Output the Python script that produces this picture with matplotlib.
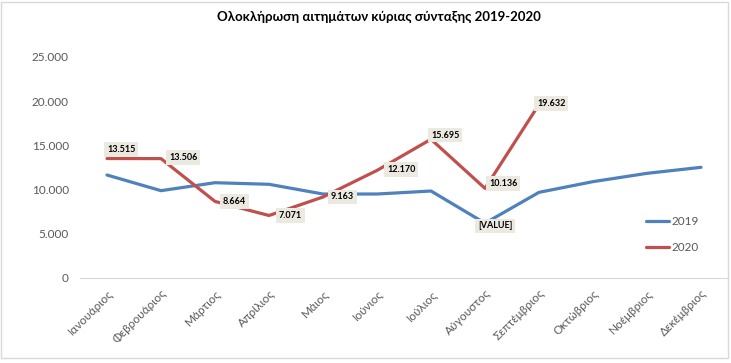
import matplotlib
matplotlib.use('agg')
import matplotlib.pyplot as plt
from matplotlib.patches import Rectangle
from matplotlib.ticker import FuncFormatter

months = ['Ιανουάριος', 'Φεβρουάριος', 'Μάρτιος', 'Απρίλιος', 'Μάιος', 'Ιούνιος',
          'Ιούλιος', 'Αύγουστος', 'Σεπτέμβριος', 'Οκτώβριος', 'Νοέμβριος', 'Δεκέμβριος']
v2019 = [11650, 9880, 10780, 10600, 9500, 9500, 9840, 6200, 9690, 10900, 11840, 12520]
v2020 = [13515, 13506, 8664, 7071, 9163, 12170, 15695, 10136, 19632]
# offsets (px) of the data labels relative to their point
off2020 = [(0, 9), (8, 1), (8, 0), (10, 0), (8, 0), (10, 1), (0, 4), (4, 5), (-2, 1)]

plt.rcParams['font.family'] = ['Lato', 'Noto Sans', 'DejaVu Sans']

fig = plt.figure(figsize=(7.31, 3.63), dpi=100)
ax = fig.add_axes([80 / 731, 85 / 363, 648 / 731, 221 / 363])
fig.patches.append(Rectangle((0.002, 0.015), 0.994, 0.98, transform=fig.transFigure,
                             fill=False, edgecolor='#d9d9d9', lw=1))

x = list(range(len(months)))
ax.plot(x, v2019, color='#4f81bd', lw=2.3, label='2019', solid_capstyle='round')
ax.plot(x[:len(v2020)], v2020, color='#c0504d', lw=2.3, label='2020', solid_capstyle='round')

box = dict(boxstyle='square,pad=0.3', fc='#ece9e1', ec='none')
for i, v in enumerate(v2020):
    dx, dy = off2020[i]
    ax.annotate(f'{v:,}'.replace(',', '.'), (i, v), xytext=(dx * 0.72, dy * 0.72),
                textcoords='offset points', ha='left', va='center', fontsize=6.5,
                fontweight='bold', color='black', bbox=box)
ax.annotate('[VALUE]', (7, v2019[7]), xytext=(-5, -2), textcoords='offset points',
            ha='left', va='center', fontsize=6.5, fontweight='bold', color='black', bbox=box)

ax.set_xlim(-0.5, 11.5)
ax.set_ylim(0, 25000)
ax.set_yticks(range(0, 25001, 5000))
ax.yaxis.set_major_formatter(FuncFormatter(lambda v, p: f'{int(v):,}'.replace(',', '.')))
ax.set_xticks(x)
ax.set_xticklabels(months, rotation=45, ha='right', rotation_mode='anchor')
ax.tick_params(length=0, labelsize=8.5, colors='#595959')
ax.tick_params(axis='y', pad=8)
ax.tick_params(axis='x', pad=7)
for s in ['top', 'right', 'left']:
    ax.spines[s].set_visible(False)
ax.spines['bottom'].set_color('#d9d9d9')

fig.text(0.519, 0.955, 'Ολοκλήρωση αιτημάτων κύριας σύνταξης 2019-2020', ha='center',
         va='center', fontsize=9.5, fontweight='bold', color='black')

leg = ax.legend(loc='upper left', bbox_to_anchor=(555 / 648, 0.33), frameon=False,
                fontsize=8.5, handlelength=2.0, labelspacing=1.3, handletextpad=0.2)
for t in leg.get_texts():
    t.set_color('#595959')

fig.savefig('out.png', dpi=100)
